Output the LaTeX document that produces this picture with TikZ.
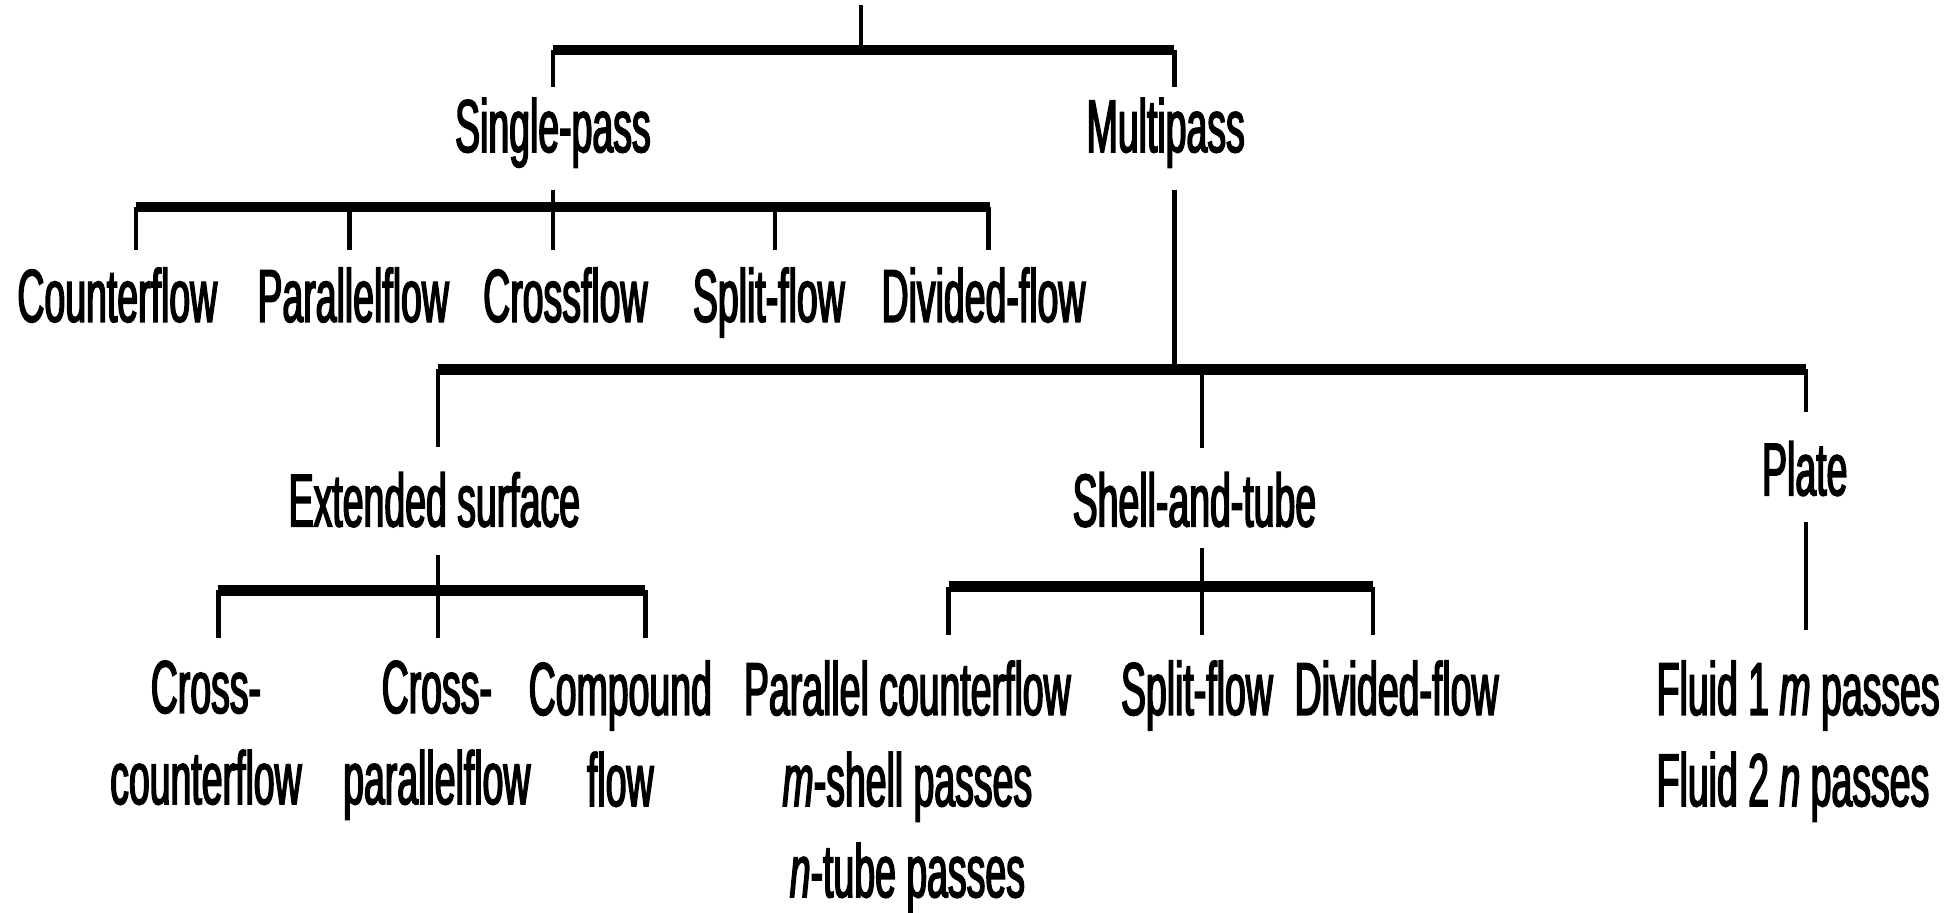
\documentclass[tikz,border=0pt]{standalone}
\usepackage{fontspec}
\setmainfont{Liberation Sans}[FakeStretch=0.5, FakeBold=2]
\usetikzlibrary{calc}

\begin{document}
\begin{tikzpicture}[x=0.6pt, y=-0.6pt,
  lab/.style={font=\fontsize{36}{43.8}\selectfont, inner sep=0pt, anchor=north, align=center},
  bar/.style={line width=5pt},
  drop/.style={line width=2.2pt}]
  \useasboundingbox (0,0) rectangle (1568,731);
  % first level
  \node[lab] (S) at (443,78) {Single-pass};
  \node[lab] (M) at (934,78) {Multipass};
  \coordinate (R) at (690,4);
  \coordinate (A1) at (443,40);
  \coordinate (A2) at (941,40);
  \draw[drop] (R) -- (R |- A1);
  \draw[bar] (A1) -- (A2);
  \draw[drop] (A1) -- ++(0,30);
  \draw[drop] (A2) -- ++(0,30);
  % single-pass
  \node[lab] (S1) at (94,214) {Counterflow};
  \node[lab] (S2) at (283,214) {Parallelflow};
  \node[lab] (S3) at (453,214) {Crossflow};
  \node[lab] (S4) at (616,214) {Split-flow};
  \node[lab] (S5) at (788,214) {Divided-flow};
  \coordinate (B1) at (109,166);
  \coordinate (B2) at (793,166);
  \draw[drop] (443,152) -- (443,166);
  \draw[bar] (B1) -- (B2);
  \foreach \x in {109,280,443,621,792}
    \draw[drop] (\x,166) -- (\x,200);
  % multipass
  \node[lab] (E) at (348,378) {Extended surface};
  \node[lab] (T) at (957,378) {Shell-and-tube};
  \node[lab] (P) at (1446,353) {Plate};
  \coordinate (C1) at (351,296);
  \coordinate (C2) at (1447,296);
  \draw[drop] (941,152) -- (941,296);
  \draw[bar] (C1) -- (C2);
  \draw[drop] (C1) -- ++(0,62);
  \draw[drop] (963,296) -- (963,359);
  \draw[drop] (C2) -- ++(0,34);
  % extended surface
  \node[lab] (E1) at (165,529) {Cross-\\counterflow};
  \node[lab] (E2) at (350,529) {Cross-\\parallelflow};
  \node[lab] (E3) at (497,529) {Compound\\flow};
  \draw[drop] (351,445) -- (351,473);
  \draw[bar] (175,473) -- (517,473);
  \foreach \x in {175,351,517}
    \draw[drop] (\x,473) -- (\x,511);
  % shell-and-tube
  \node[lab] (T1) at (727,529) {Parallel counterflow\\\textit{m}-shell passes\\\textit{n}-tube passes};
  \node[lab] (T2) at (959,529) {Split-flow};
  \node[lab] (T3) at (1119,529) {Divided-flow};
  \draw[drop] (963,439) -- (963,470);
  \draw[bar] (760,470) -- (1100,470);
  \foreach \x in {760,963,1100}
    \draw[drop] (\x,470) -- (\x,509);
  % plate
  \node[lab, anchor=north west, align=left] (P1) at (1327,529) {Fluid 1 \textit{m} passes\\Fluid 2 \textit{n} passes};
  \draw[drop] (1447,418) -- (1447,505);
\end{tikzpicture}
\end{document}
